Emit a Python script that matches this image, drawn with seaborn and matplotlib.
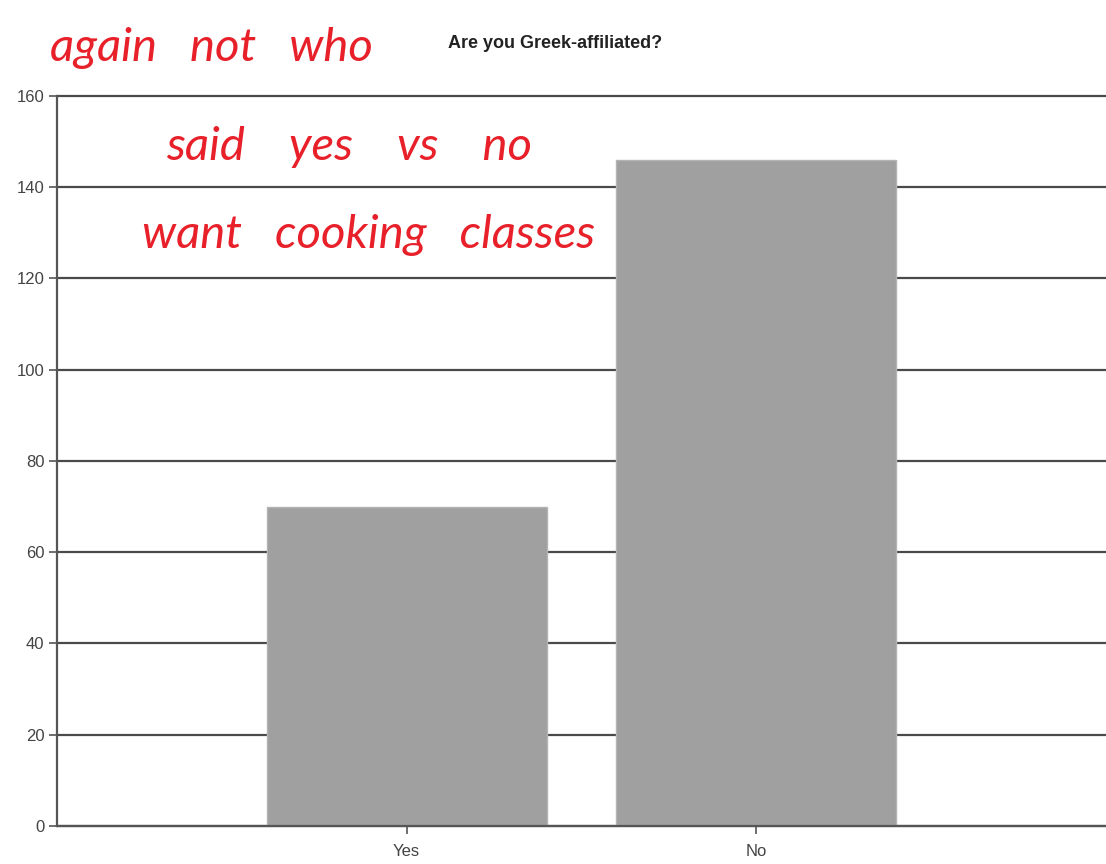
import matplotlib
matplotlib.use("Agg")
import matplotlib.pyplot as plt
import seaborn as sns
import pandas as pd

# Survey responses
answers = ["Yes", "No"]
counts = [70, 146]
y_ticks = [0, 20, 40, 60, 80, 100, 120, 140, 160]

sns.set_theme(style="white")
plt.rcParams["font.family"] = ["Liberation Sans", "DejaVu Sans"]

df = pd.DataFrame({"answer": answers, "count": counts})

fig = plt.figure(figsize=(11.06, 8.64), dpi=100)
ax = fig.add_axes([0.0515, 0.044, 0.9485, 0.845])

ax.set_axisbelow(True)
ax.yaxis.grid(True, color="#4a4a4a", linewidth=1.6)
ax.xaxis.grid(False)

sns.barplot(data=df, x="answer", y="count", color="#a0a0a0", saturation=1,
            width=0.8, edgecolor="#b4b4b4", linewidth=1.0, ax=ax)

ax.set_xlim(-1, 2)
ax.set_ylim(0, 160)
ax.set_yticks(y_ticks)
ax.set_xlabel("")
ax.set_ylabel("")
for gl in ax.get_ygridlines():
    gl.set_clip_on(False)

for side in ["top", "right"]:
    ax.spines[side].set_visible(False)
for side in ["left", "bottom"]:
    ax.spines[side].set_visible(True)
    ax.spines[side].set_color("#555555")
    ax.spines[side].set_linewidth(1.6)

ax.tick_params(axis="both", which="major", length=6, width=1.2,
               color="#555555", labelcolor="#444444", labelsize=12,
               left=True, bottom=True)
ax.tick_params(axis="x", pad=7)
ax.tick_params(axis="y", pad=3)

fig.text(0.502, 0.950, "Are you Greek-affiliated?", ha="center", va="center",
         fontsize=13, fontweight="bold", color="#222222")

# Handwritten note in red ink
note_style = dict(color="#e8202a", fontsize=34, style="italic",
                  family=["Lato", "DejaVu Sans"], fontweight="normal",
                  va="center")
fig.text(0.045, 0.945, "again   not   who", **note_style)
fig.text(0.150, 0.830, "said    yes    vs    no", **note_style)
fig.text(0.128, 0.728, "want   cooking   classes", **note_style)

fig.savefig("out.png", dpi=100)
